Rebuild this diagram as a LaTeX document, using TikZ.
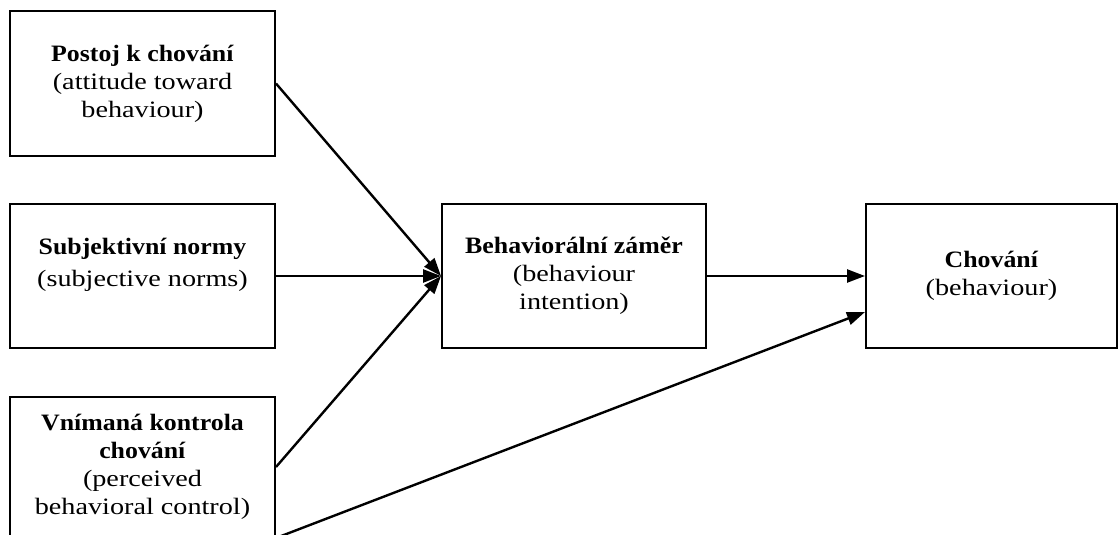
\documentclass[tikz,border=0pt]{standalone}
\usepackage{fontspec}
\setmainfont{Liberation Serif}[
  UprightFeatures={FakeStretch=1.2},
  BoldFeatures={FakeStretch=1.1}]
\usetikzlibrary{arrows.meta}
\begin{document}
\begin{tikzpicture}[x=1pt,y=-1pt,
  box/.style={draw, line width=2pt, align=center, inner sep=0pt,
              font=\fontsize{23.5}{28}\selectfont},
  link/.style={line width=2.4pt, -{Triangle[length=18pt,width=13pt]}}]
\useasboundingbox (0,0) rectangle (1119,535);
\clip (0,0) rectangle (1119,535);

% three determinants on the left
\node[box, minimum width=265pt, minimum height=145pt] (att) at (142.5,83.5)
  {\textbf{Postoj k chování}\\(attitude toward\\behaviour)};
\node[box, minimum width=265pt, minimum height=144pt] (sn) at (142.5,276)
  {\raisebox{11pt}[\height][\depth]{\begin{tabular}{@{}c@{}}\textbf{Subjektivní normy}\\[4pt](subjective norms)\end{tabular}}};
\node[box, minimum width=265pt, minimum height=140pt] (pbc) at (142.5,467)
  {\textbf{Vnímaná kontrola}\\\textbf{chování}\\(perceived\\behavioral control)};

% intention and behaviour
\node[box, minimum width=264pt, minimum height=144pt] (int) at (574,276)
  {\textbf{Behaviorální záměr}\\(behaviour\\intention)};
\node[box, minimum width=251pt, minimum height=144pt] (beh) at (991.5,276)
  {\textbf{Chování}\\(behaviour)};

\coordinate (behlow) at ([yshift=-36pt]beh.west);

% connectors
\draw[link] (att.east) -- (int.west);
\draw[link] (sn.east) -- (int.west);
\draw[link] (pbc.east) -- (int.west);
\draw[link] (int.east) -- (beh.west);
\draw[link] (pbc.south east) -- (behlow);
\end{tikzpicture}
\end{document}
